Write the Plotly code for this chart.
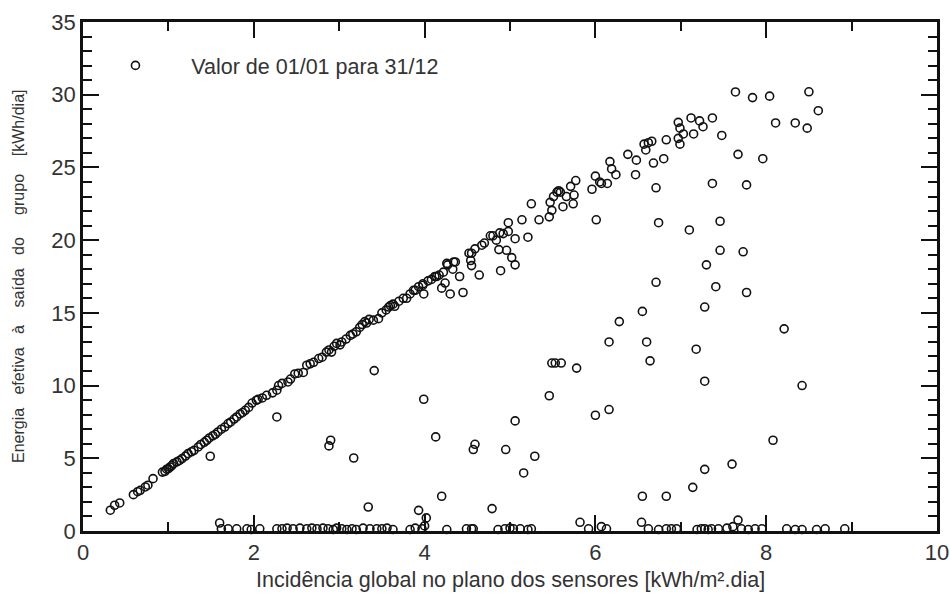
import plotly.graph_objects as go

# Main linear band (incidence vs. energy)
band_x = [0.32,0.37,0.43,0.59,0.64,0.67,0.73,0.76,0.82,0.93,0.96,0.98,1.00,1.02,1.04,1.06,1.10,1.13,1.16,1.20,
          1.23,1.27,1.30,1.35,1.38,1.42,1.45,1.48,1.52,1.55,1.58,1.62,1.66,1.70,1.73,1.77,1.80,1.84,1.87,1.90,
          1.94,1.98,2.03,2.05,2.10,2.15,2.22,2.27,2.29,2.33,2.40,2.43,2.48,2.52,2.58,2.62,2.66,2.70,2.76,2.80,
          2.85,2.88,2.91,2.94,2.97,3.01,3.03,3.08,3.13,3.16,3.20,3.24,3.27,3.30,3.32,3.35,3.40,3.46,3.50,3.55,
          3.58,3.60,3.63,3.65,3.70,3.75,3.79,3.83,3.87,3.89,3.93,3.98,3.98,3.99,4.04,4.08,4.12,4.14,4.17,4.20,
          4.22,4.24,4.26,4.27,4.30,4.33,4.34,4.36,4.41,4.45,4.52,4.54,4.55,4.55,4.59,4.64,4.67,4.70,4.77,4.80,
          4.84,4.87,4.88,4.89,4.92,4.96,4.98,4.98,5.02,5.06,5.06,5.14,5.21,5.25,5.34,5.46,5.47,5.49,5.51,5.55,
          5.57,5.59,5.62,5.66,5.71,5.74,5.75,5.77,5.96,6.00,6.05,6.07,6.14,6.17,6.19,6.24,6.38,6.47,6.48,6.57,
          6.59,6.62,6.66,6.68,6.80,6.83,6.97,6.97,6.99,6.99,7.03,7.12,7.15,7.22,7.26,7.37]
band_y = [1.43,1.77,1.93,2.50,2.70,2.80,3.03,3.15,3.60,4.05,4.10,4.25,4.29,4.40,4.50,4.63,4.75,4.85,4.98,5.15,
          5.32,5.45,5.55,5.78,5.95,6.10,6.24,6.40,6.55,6.65,6.81,7.00,7.15,7.39,7.50,7.70,7.84,8.05,8.15,8.30,
          8.50,8.80,8.99,9.05,9.15,9.33,9.50,9.68,10.00,10.15,10.25,10.45,10.80,10.85,10.90,11.40,11.50,11.60,11.86,11.95,
          12.30,12.45,12.30,12.70,12.90,12.80,13.00,13.20,13.45,13.55,13.70,14.00,14.20,14.40,14.30,14.55,14.50,14.60,15.00,15.20,
          15.40,15.50,15.60,15.45,15.80,16.00,16.00,16.30,16.55,16.55,16.80,16.90,17.00,16.30,17.20,17.30,17.50,17.50,17.60,16.70,
          17.80,17.05,18.40,18.30,16.30,18.00,18.50,18.50,17.50,16.40,19.10,18.60,18.25,19.10,19.40,17.60,19.65,19.80,20.30,20.30,
          20.00,19.35,20.50,17.90,20.45,19.30,21.20,20.60,18.80,18.30,20.10,21.40,20.20,22.50,21.40,21.60,22.60,22.05,23.00,23.30,
          23.40,23.30,22.30,23.00,23.70,22.50,23.10,24.10,23.50,24.40,24.00,23.90,23.90,25.40,24.90,24.50,25.90,24.50,25.50,26.60,
          26.20,26.70,26.80,25.30,25.60,26.90,28.10,27.00,27.70,26.60,27.30,28.40,27.30,28.20,27.80,28.40]

# Scattered points below / beyond the band
scat_x = [7.64,7.84,8.04,8.50,8.61,8.11,8.34,8.48,7.48,7.67,7.96,7.37,7.77,6.71,6.01,6.74,7.10,7.46,7.46,7.73,
          7.30,6.71,7.41,7.77,6.55,7.28,6.28,6.16,6.60,8.21,7.18,5.49,5.53,5.60,5.78,6.64,7.28,8.42,5.46,6.00,
          6.16,5.06,4.59,4.57,4.95,5.29,5.16,8.08,7.60,7.28,7.14,6.55,6.83,4.79,1.49,2.27,2.88,2.90,3.17,3.41,
          3.34,3.99,4.13,4.20,3.93,4.02]
scat_y = [30.19,29.80,29.90,30.20,28.90,28.06,28.06,27.70,27.20,25.90,25.60,23.90,23.80,23.60,21.40,21.20,20.70,21.30,19.30,19.20,
          18.30,17.10,16.80,16.40,15.10,15.40,14.40,13.00,13.00,13.90,12.50,11.55,11.55,11.55,11.20,11.70,10.30,10.00,9.30,7.96,
          8.35,7.57,5.96,5.60,5.60,5.14,3.99,6.24,4.60,4.24,3.00,2.39,2.39,1.54,5.14,7.84,5.85,6.24,5.02,11.03,
          1.65,9.06,6.47,2.39,1.42,0.90]

# Near-zero row
zero_x = [1.60,1.62,1.70,1.80,1.92,1.97,2.07,2.27,2.33,2.39,2.46,2.54,2.62,2.68,2.74,2.81,2.87,2.93,2.97,3.03,
          3.09,3.15,3.20,3.28,3.36,3.44,3.50,3.56,3.63,3.83,3.89,3.97,4.00,4.26,4.49,4.55,4.57,4.86,4.94,5.00,
          5.04,5.12,5.21,5.25,5.82,5.92,6.07,6.13,6.54,6.62,6.74,6.83,6.89,6.95,7.19,7.24,7.28,7.32,7.36,7.44,
          7.54,7.61,7.67,7.71,7.79,7.87,7.95,8.24,8.34,8.42,8.59,8.69,8.92]
zero_y = [0.55,0.15,0.15,0.15,0.15,0.10,0.15,0.15,0.15,0.20,0.15,0.20,0.15,0.20,0.15,0.20,0.15,0.10,0.20,0.15,
          0.10,0.15,0.10,0.20,0.15,0.15,0.15,0.20,0.10,0.10,0.20,0.15,0.35,0.10,0.15,0.15,0.15,0.10,0.15,0.20,
          0.15,0.15,0.10,0.15,0.60,0.15,0.30,0.15,0.60,0.15,0.10,0.15,0.15,0.15,0.10,0.15,0.15,0.10,0.15,0.15,
          0.20,0.30,0.75,0.15,0.10,0.15,0.15,0.15,0.10,0.10,0.10,0.15,0.15]

xs = band_x + scat_x + zero_x
ys = band_y + scat_y + zero_y

FONT = "Liberation Sans, Arial, sans-serif"
NB = "\u00a0"

fig = go.Figure()
fig.add_trace(go.Scatter(
    x=xs, y=ys, mode="markers", cliponaxis=False,
    name=NB * 6 + "Valor de 01/01 para 31/12",
    marker=dict(symbol="circle-open", size=8, color="#111111", line=dict(width=1.6, color="#111111")),
))

axis_common = dict(
    showline=True, linewidth=2.5, linecolor="#111111", mirror="ticks",
    ticks="inside", ticklen=16, tickwidth=1.5, tickcolor="#111111",
    showgrid=False, zeroline=False, automargin=False,
    tickfont=dict(family=FONT, size=22, color="#333333"),
)

fig.update_xaxes(range=[0, 10], dtick=2, tick0=0,
                 minor=dict(dtick=1, ticks="inside", ticklen=9, tickwidth=1.5, tickcolor="#111111"),
                 **axis_common)
fig.update_yaxes(range=[0, 35], dtick=5, tick0=0,
                 minor=dict(dtick=1, ticks="inside", ticklen=9, tickwidth=1.5, tickcolor="#111111"),
                 **axis_common)

fig.add_annotation(text="Incidência global no plano dos sensores [kWh/m².dia]",
                   xref="paper", yref="paper", x=0.5, y=-0.068, yanchor="top",
                   showarrow=False, font=dict(family=FONT, size=21.5, color="#333333"))
fig.add_annotation(text=("Energia" + NB*3 + "efetiva" + NB*3 + "à" + NB*4 + "saída" + NB*3 + "do" + NB*5 +
                         "grupo" + NB*4 + "[kWh/dia]"),
                   xref="paper", yref="paper", x=-0.0755, y=0.50, textangle=-90,
                   xanchor="center", yanchor="middle",
                   showarrow=False, font=dict(family=FONT, size=16, color="#333333"))

fig.update_layout(
    width=950, height=595,
    margin=dict(l=83, r=13, t=22, b=64),
    paper_bgcolor="white", plot_bgcolor="white",
    showlegend=True,
    legend=dict(x=0.038, y=0.955, xanchor="left", yanchor="top", bgcolor="rgba(0,0,0,0)",
                font=dict(family=FONT, size=21.5, color="#333333")),
)

fig.write_html("out.html")
